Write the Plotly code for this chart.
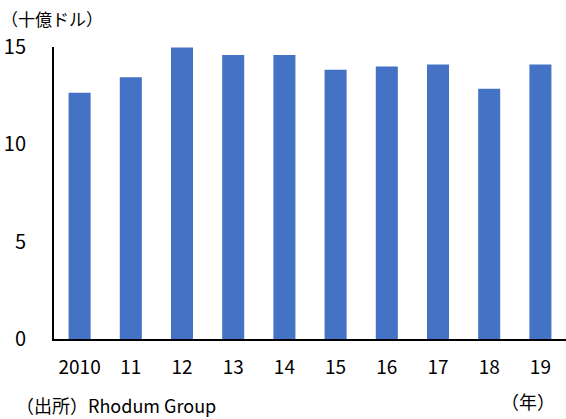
import plotly.graph_objects as go

years = ["2010", "11", "12", "13", "14", "15", "16", "17", "18", "19"]
values = [12.65, 13.45, 14.98, 14.59, 14.59, 13.83, 14.0, 14.1, 12.85, 14.1]
y_ticks = [0, 5, 10, 15]

FONT = "Noto Sans CJK JP"

fig = go.Figure(go.Bar(x=years, y=values, marker=dict(color="#4472C4", line=dict(width=0)),
                       width=0.43))

fig.update_layout(
    width=566, height=419,
    margin=dict(l=54, r=0, t=47, b=80),
    plot_bgcolor="white", paper_bgcolor="white",
    font=dict(family=FONT, color="black"),
    showlegend=False,
    xaxis=dict(range=[-0.5, 9.5], showline=True, linecolor="black", linewidth=2,
               ticks="", tickfont=dict(size=19, family=FONT), showgrid=False,
               ticklabelstandoff=10),
    yaxis=dict(range=[0, 15], tickvals=y_ticks, showline=True, linecolor="black", linewidth=2,
               ticks="", tickfont=dict(size=20, family=FONT), showgrid=False, zeroline=False,
               ticklabelstandoff=22),
    annotations=[
        dict(text="（十億ドル）", x=0, y=1, xref="paper", yref="paper", xanchor="left", yanchor="middle",
             xshift=-55, yshift=29, showarrow=False, font=dict(size=17, family=FONT)),
        dict(text="（年）", x=1, y=0, xref="paper", yref="paper", xanchor="right", yanchor="middle",
             xshift=-9, yshift=-62, showarrow=False, font=dict(size=18, family=FONT)),
        dict(text="（出所）Rhodum Group", x=0, y=0, xref="paper", yref="paper", xanchor="left", yanchor="middle",
             xshift=-40, yshift=-66, showarrow=False, font=dict(size=18, family=FONT)),
    ],
)

fig.write_html("out.html")
